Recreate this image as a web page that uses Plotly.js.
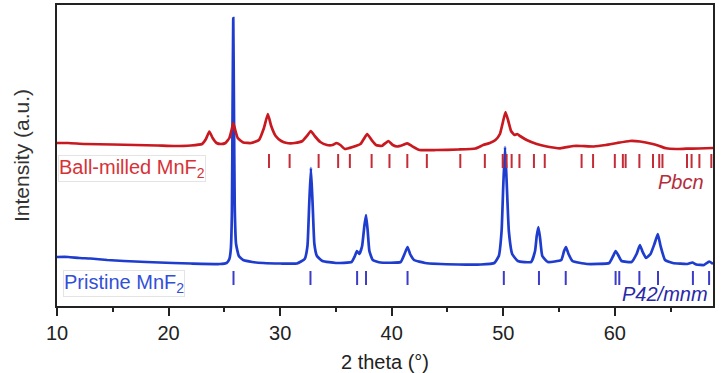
<!DOCTYPE html>
<html>
<head>
<meta charset="utf-8">
<script src="https://cdn.plot.ly/plotly-3.0.1.min.js"></script>
<style>html,body{margin:0;padding:0;background:#fff}#chart{width:723px;height:373px}</style>
</head>
<body>
<div id="chart"></div>
<script>
// Pristine MnF2 (rutile, P42/mnm) pattern (2θ, intensity a.u.)
const pristineTheta = [10.0,11.0,12.0,13.0,14.5,16.0,18.0,20.4,22.0,24.6,25.2,25.45,25.58,25.68,25.74,25.8,25.86,25.93,26.05,26.3,26.7,27.5,28.5,30.0,31.5,32.2,32.45,32.6,32.76,32.92,33.07,33.3,33.8,35.0,36.4,36.7,36.88,37.1,37.35,37.55,37.7,37.85,38.0,38.3,39.0,40.8,41.15,41.42,41.65,42.0,43.0,46.0,48.0,49.2,49.6,49.85,50.0,50.16,50.32,50.5,50.8,51.3,52.5,52.85,53.0,53.15,53.3,53.5,54.0,55.2,55.45,55.62,55.85,56.2,57.5,59.5,59.85,60.07,60.3,60.6,61.5,61.95,62.25,62.5,62.8,63.2,63.55,63.85,64.1,64.5,65.2,66.5,66.95,67.3,68.0,68.45,68.8];
const pristineI     = [49,49,48,47.5,46,45,44,43,42.5,42,43,47,57,95,200,288,200,100,62,50,46,44,43,42.5,42.5,47,60,100,138,100,62,50,45,43,44,50,55,52,60,80,91,75,55,46,43.5,44,52,59,52,46,43,41.5,41.5,43,50,75,120,159,120,75,52,45,44,55,70,79,68,50,44,46,55,59,52,45,42,43,50,55,51,45,44,52,61,54,48,52,62,72,60,46,43,42,43.5,41.5,41,44.5,42];

// Ball-milled MnF2 pattern
const milledTheta = [10.0,11.0,12.5,15.0,17.0,19.0,20.5,22.0,23.0,23.35,23.65,23.95,24.3,24.7,25.1,25.45,25.65,25.8,25.95,26.2,26.7,27.4,28.1,28.55,28.9,29.2,29.6,30.1,30.6,31.3,32.0,32.4,32.75,33.1,33.6,34.2,34.7,35.05,35.4,35.8,36.5,37.2,37.5,37.8,38.2,38.6,39.1,39.7,40.1,40.5,41.0,41.4,41.8,42.5,44.0,46.0,47.5,48.2,48.8,49.3,49.7,49.95,50.2,50.45,50.7,51.0,51.25,51.5,52.1,53.0,53.9,55.1,56.3,57.0,58.1,59.2,60.2,61.35,62.25,63.4,64.0,64.6,65.5,66.4,67.5,68.8];
const milledI     = [163,163,162,161.5,161,160.5,160,160.5,162,167,174.5,168,163,162,163,168,176,183,177,168,163.5,163,166,178,192,180,170,165,163,163,165,170,175,170,164,161,161,163,161,157,159,162,167,172,166,161,160,165,161,159.5,161,162.7,160,156,156,156.5,157.5,161,163,166,172,183,194,185,175,171,172,170,166,162,159.5,157.7,160,160,159.5,161,163,165,164.5,162,160,157.7,157,157.3,157.5,158];

// Reference reflection positions (2θ)
const pbcnRefs = [29.0,30.85,33.45,35.2,36.25,38.2,39.8,41.4,43.15,46.15,48.35,49.95,50.3,50.75,51.45,52.75,53.72,57.02,58.05,60.0,60.72,60.97,62.2,63.42,63.98,64.27,66.47,66.88,67.58,68.65];
const p42Refs  = [25.82,32.72,36.9,37.7,41.42,50.05,53.2,55.6,60.07,60.4,62.2,63.87,67.0,68.45];

// Axis ticks
const majorTicks = [10,20,30,40,50,60];
const majorTickText = ['10','20','30','40','50','60'];

const RED = 'rgb(200,25,32)';
const BLUE = 'rgb(30,60,205)';
const FONT = 'Liberation Sans, Arial, sans-serif';

const traces = [
  {x: p42Refs, y: p42Refs.map(() => 28), type: 'scatter', mode: 'markers',
   marker: {symbol: 'line-ns', size: 10, line: {color: 'rgb(60,60,200)', width: 2}}, hoverinfo: 'skip'},
  {x: pristineTheta, y: pristineI, type: 'scatter', mode: 'lines',
   line: {color: BLUE, width: 2.7, shape: 'spline', smoothing: 0.4}, hoverinfo: 'skip'},
  {x: pbcnRefs, y: pbcnRefs.map(() => 145), type: 'scatter', mode: 'markers',
   marker: {symbol: 'line-ns', size: 10, line: {color: 'rgb(195,45,55)', width: 2}}, hoverinfo: 'skip'},
  {x: milledTheta, y: milledI, type: 'scatter', mode: 'lines',
   line: {color: RED, width: 2.7, shape: 'spline', smoothing: 0.4}, hoverinfo: 'skip'}
];

const layout = {
  width: 723, height: 373,
  margin: {l: 56.5, r: 10, t: 5, b: 67},
  paper_bgcolor: '#fff', plot_bgcolor: '#fff',
  showlegend: false,
  font: {family: FONT, size: 20, color: '#222'},
  xaxis: {
    range: [10, 68.8], showgrid: false, zeroline: false,
    showline: true, mirror: true, linecolor: '#222', linewidth: 2,
    ticks: 'outside', ticklen: 8, tickwidth: 2, tickcolor: '#222',
    tickvals: majorTicks, ticktext: majorTickText,
    minor: {ticks: 'outside', ticklen: 4, tickwidth: 2, tickcolor: '#222', dtick: 5, showgrid: false},
    tickfont: {family: FONT, size: 20, color: '#222'},
    title: {text: '2 theta (°)', font: {family: FONT, size: 20, color: '#222'}, standoff: 12}
  },
  yaxis: {
    range: [0, 301], showgrid: false, zeroline: false,
    showline: true, mirror: true, linecolor: '#222', linewidth: 2,
    ticks: '', showticklabels: false,
    title: {text: 'Intensity (a.u.)', font: {family: FONT, size: 21, color: '#333'}, standoff: 20}
  },
  annotations: [
    {xref: 'x', yref: 'y', x: 10.1, y: 138, xanchor: 'left', yanchor: 'middle',
     text: 'Ball-milled MnF<sub>2</sub>', showarrow: false,
     font: {family: FONT, size: 20, color: 'rgb(215,50,55)'},
     bgcolor: '#fff', bordercolor: '#e4e4e4', borderwidth: 1, borderpad: 0},
    {xref: 'x', yref: 'y', x: 10.55, y: 23, xanchor: 'left', yanchor: 'middle',
     text: 'Pristine MnF<sub>2</sub>', showarrow: false,
     font: {family: FONT, size: 20, color: 'rgb(50,80,215)'},
     bgcolor: '#fff', bordercolor: '#e4e4e4', borderwidth: 1, borderpad: 0},
    {xref: 'paper', yref: 'y', x: 0.99, y: 124, xanchor: 'right', yanchor: 'middle',
     text: '<i>Pbcn</i>', showarrow: false,
     font: {family: FONT, size: 20, color: 'rgb(180,45,60)'}},
    {xref: 'paper', yref: 'y', x: 0.996, y: 12, xanchor: 'right', yanchor: 'middle',
     text: '<i>P42/mnm</i>', showarrow: false,
     font: {family: FONT, size: 20, color: 'rgb(40,40,170)'}}
  ]
};

Plotly.newPlot('chart', traces, layout, {staticPlot: true, displayModeBar: false});
</script>
</body>
</html>
